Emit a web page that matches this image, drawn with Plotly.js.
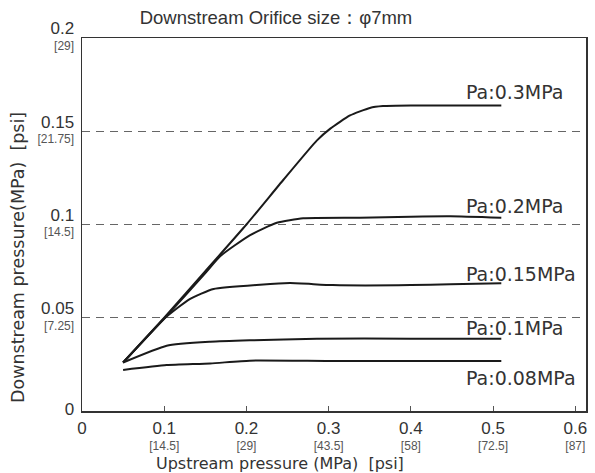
<!DOCTYPE html>
<html>
<head>
<meta charset="utf-8">
<script src="https://cdn.plot.ly/plotly-3.0.1.min.js"></script>
<style>body{margin:0;background:#fff}#chart{width:595px;height:473px}</style>
</head>
<body>
<div id="chart"></div>
<script>
// Series data (Upstream pressure MPa -> Downstream pressure MPa)
const seriesNames = ["Pa:0.3MPa", "Pa:0.2MPa", "Pa:0.15MPa", "Pa:0.1MPa", "Pa:0.08MPa"];
const x_pa03 = [0.05, 0.1, 0.15, 0.2, 0.245, 0.2855, 0.302, 0.326, 0.35, 0.366, 0.4, 0.45, 0.51];
const y_pa03 = [0.026, 0.050, 0.075, 0.100, 0.124, 0.145, 0.1514, 0.1585, 0.1625, 0.1635, 0.1638, 0.1638, 0.1638];
const x_pa02 = [0.05, 0.1, 0.15, 0.168, 0.204, 0.237, 0.269, 0.338, 0.4, 0.448, 0.51];
const y_pa02 = [0.026, 0.0495, 0.074, 0.083, 0.0942, 0.1009, 0.1033, 0.1036, 0.1042, 0.1044, 0.1036];
const x_pa015 = [0.05, 0.1, 0.131, 0.16, 0.2165, 0.253, 0.305, 0.4, 0.448, 0.51];
const y_pa015 = [0.026, 0.0495, 0.060, 0.0654, 0.0677, 0.0686, 0.0675, 0.0675, 0.068, 0.0685];
const x_pa01 = [0.05, 0.103, 0.156, 0.204, 0.2855, 0.4, 0.51];
const y_pa01 = [0.026, 0.035, 0.0371, 0.0379, 0.0388, 0.0388, 0.0388];
const x_pa008 = [0.05, 0.103, 0.156, 0.204, 0.3, 0.4, 0.51];
const y_pa008 = [0.022, 0.0246, 0.0255, 0.027, 0.0268, 0.0268, 0.0268];

// Tick labels
const xTickVals = [0, 0.1, 0.2, 0.3, 0.4, 0.5, 0.6];
const xTickMain = ["0", "0.1", "0.2", "0.3", "0.4", "0.5", "0.6"];
const xTickPsi = ["", "[14.5]", "[29]", "[43.5]", "[58]", "[72.5]", "[87]"];
const yTickVals = [0, 0.05, 0.1, 0.15, 0.2];
const yTickMain = ["0", "0.05", "0.1", "0.15", "0.2"];
const yTickPsi = ["", "[7.25]", "[14.5]", "[21.75]", "[29]"];

const titleText = "Downstream Orifice size：φ7mm";
const xTitle = "Upstream pressure (MPa)  [psi]";
const yTitle = "Downstream pressure(MPa)  [psi]";

const xs = [x_pa03, x_pa02, x_pa015, x_pa01, x_pa008];
const ys = [y_pa03, y_pa02, y_pa015, y_pa01, y_pa008];

function tickText(main, psi) {
  return main.map((m, i) => {
    const top = "<span style='font-size:17px;color:#333'>" + m + "</span>";
    return psi[i] ? top + "<br>" + psi[i] : top;
  });
}

const traces = xs.map((x, i) => ({
  x: x, y: ys[i], name: seriesNames[i], type: "scatter", mode: "lines",
  line: {color: "#1a1a1a", width: 2, shape: "spline", smoothing: 0.5},
  hoverinfo: "skip"
}));

const labelPos = [
  [0.4647, 0.1712], [0.4647, 0.1098], [0.4647, 0.0732], [0.4647, 0.0445], [0.4647, 0.0178]
];
const annotations = seriesNames.map((n, i) => ({
  text: n, x: labelPos[i][0], y: labelPos[i][1], xref: "x", yref: "y",
  xanchor: "left", yanchor: "middle", showarrow: false,
  font: {family: "DejaVu Sans", size: 19, color: "#333"}
}));
annotations.push({
  text: yTitle, textangle: -90, xref: "paper", yref: "paper",
  x: (18 - 82) / 504, y: (411 - 258) / 373, xanchor: "center", yanchor: "middle",
  showarrow: false, font: {family: "DejaVu Sans", size: 17.5, color: "#333"}
});
annotations.push({
  text: xTitle, xref: "paper", yref: "paper",
  x: (280 - 82) / 504, y: (411 - 463) / 373, xanchor: "center", yanchor: "middle",
  showarrow: false, font: {family: "DejaVu Sans", size: 16, color: "#333"}
});

const layout = {
  width: 595, height: 473,
  margin: {l: 82, r: 9, t: 38, b: 62},
  paper_bgcolor: "#fff", plot_bgcolor: "#fff",
  showlegend: false,
  title: {
    text: titleText, xref: "container", yref: "container",
    x: 276 / 595, y: 1 - 18 / 473, xanchor: "center", yanchor: "middle",
    font: {family: "Liberation Sans", size: 18.5, color: "#333"}
  },
  xaxis: {
    range: [0, 0.613], tickvals: xTickVals, ticktext: tickText(xTickMain, xTickPsi),
    ticks: "inside", ticklen: 5, tickcolor: "#555", tickwidth: 1,
    showline: true, mirror: true, linecolor: "#333", linewidth: 1.5,
    showgrid: false, zeroline: false,
    tickfont: {family: "Liberation Sans", size: 12, color: "#555"},
    ticklabelstandoff: 7
  },
  yaxis: {
    range: [0, 0.2], tickvals: yTickVals, ticktext: tickText(yTickMain, yTickPsi),
    ticks: "", showline: true, mirror: true, linecolor: "#333", linewidth: 1.5,
    showgrid: true, gridcolor: "#666", gridwidth: 1, griddash: "8px,6px",
    zeroline: false,
    tickfont: {family: "Liberation Sans", size: 12, color: "#555"},
    ticklabelstandoff: 4
  },
  annotations: annotations
};

Plotly.newPlot("chart", traces, layout, {staticPlot: true, displayModeBar: false});
</script>
</body>
</html>
